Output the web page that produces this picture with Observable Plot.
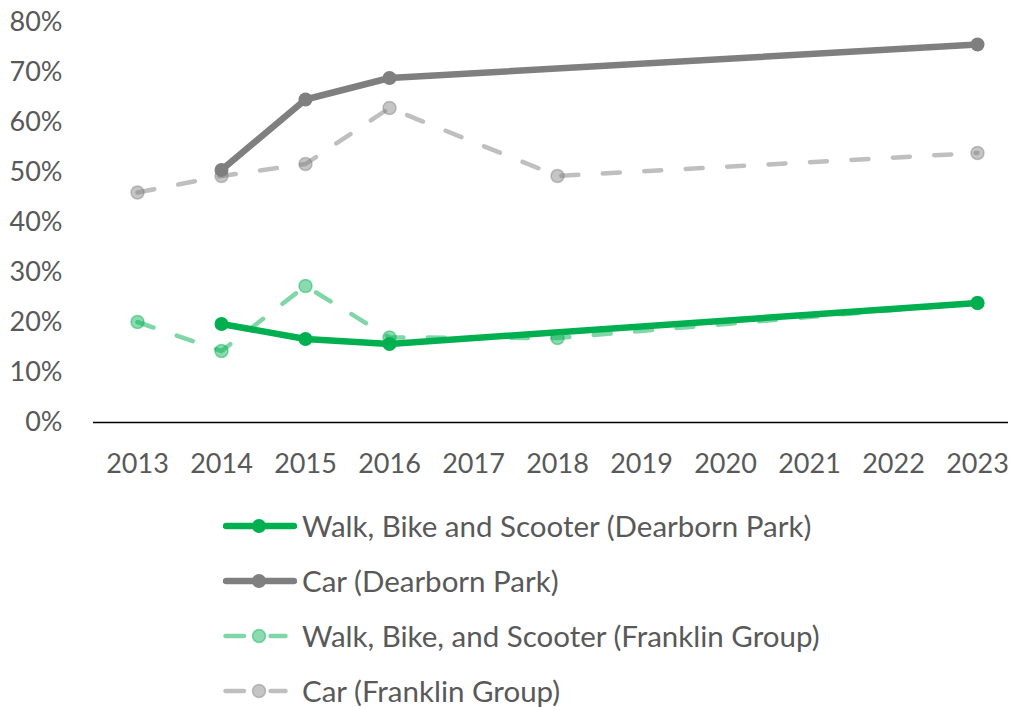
<!DOCTYPE html>
<html>
<head>
<meta charset="utf-8">
<script src="https://cdn.jsdelivr.net/npm/d3@7"></script>
<script src="https://cdn.jsdelivr.net/npm/@observablehq/plot@0.6"></script>
<style>
  html, body { margin: 0; padding: 0; background: #fff; }
  #chart { width: 1010px; }
  .legend { padding-top: 6px; font-family: Lato, sans-serif; font-size: 29.5px; color: #595959; }
  .row { display: flex; align-items: center; height: 55px; padding-left: 223px; }
  .row svg { flex: none; }
  .row span { margin-left: 5px; white-space: nowrap; }
</style>
</head>
<body>
<div id="chart"></div>
<script>
// Tick labels / categories on the x axis
const years = ["2013","2014","2015","2016","2017","2018","2019","2020","2021","2022","2023"];
// Y tick values (percent)
const yTicks = [0,10,20,30,40,50,60,70,80];

// Dearborn Park series
const dpYears = ["2014","2015","2016","2023"];
const dpWalk = [19.7, 16.7, 15.7, 23.9];
const dpCar = [50.5, 64.6, 68.9, 75.6];

// Franklin Group series
const fgYears = ["2013","2014","2015","2016","2018","2023"];
const fgWalk = [20.1, 14.3, 27.3, 17.0, 16.9, 23.9];
const fgCar = [46.0, 49.3, 51.7, 62.9, 49.3, 53.9];

const seriesNames = [
  "Walk, Bike and Scooter (Dearborn Park)",
  "Car (Dearborn Park)",
  "Walk, Bike, and Scooter (Franklin Group)",
  "Car (Franklin Group)"
];

const GREEN = "#00B050";
const GRAY = "#7F7F7F";

const toRows = (xs, ys) => xs.map((x, i) => ({x, y: ys[i]}));
const dWalk = toRows(dpYears, dpWalk);
const dCar = toRows(dpYears, dpCar);
const fWalk = toRows(fgYears, fgWalk);
const fCar = toRows(fgYears, fgCar);

const solid = (data, color) => [
  Plot.line(data, {x: "x", y: "y", stroke: color, strokeWidth: 6.5, strokeLinejoin: "round", strokeLinecap: "round"}),
  Plot.dot(data, {x: "x", y: "y", r: 7, fill: color})
];
const dashed = (data, color) => [
  Plot.line(data, {x: "x", y: "y", stroke: color, strokeOpacity: 0.5, strokeWidth: 4.5, strokeDasharray: "17,24.5", strokeLinecap: "round", strokeLinejoin: "round"}),
  Plot.dot(data, {x: "x", y: "y", r: 6.5, fill: color, fillOpacity: 0.45, stroke: color, strokeOpacity: 0.45, strokeWidth: 1.5})
];

const chart = Plot.plot({
  width: 1010,
  height: 492,
  marginTop: 22,
  marginBottom: 70,
  marginLeft: 135,
  marginRight: 31,
  style: {fontFamily: "Lato, sans-serif", fontSize: "27px", color: "#595959", background: "#fff"},
  x: {type: "point", domain: years, padding: 0},
  y: {domain: [0, 80]},
  marks: [
    Plot.axisY({ticks: yTicks, tickSize: 0, tickPadding: 73, tickFormat: d => d + "%", label: null, fill: "#595959", fontSize: 27}),
    Plot.axisX({tickSize: 0, tickPadding: 31, label: null, fill: "#595959", fontSize: 27}),
    Plot.ruleY([0], {stroke: "#000", strokeWidth: 1.5, insetLeft: -42, insetRight: -29}),
    ...solid(dWalk, GREEN),
    ...solid(dCar, GRAY),
    ...dashed(fWalk, GREEN),
    ...dashed(fCar, GRAY)
  ]
});
document.getElementById("chart").appendChild(chart);

// Legend
const legend = document.createElement("div");
legend.className = "legend";
const styles = [
  {color: GREEN, dashed: false},
  {color: GRAY, dashed: false},
  {color: GREEN, dashed: true},
  {color: GRAY, dashed: true}
];
seriesNames.forEach((name, i) => {
  const s = styles[i];
  const row = document.createElement("div");
  row.className = "row";
  let sw;
  if (!s.dashed) {
    sw = `<svg width="74" height="20"><line x1="3" x2="71" y1="10" y2="10" stroke="${s.color}" stroke-width="6.5" stroke-linecap="round"/><circle cx="36" cy="10" r="7" fill="${s.color}"/></svg>`;
  } else {
    sw = `<svg width="74" height="20"><g stroke="${s.color}" stroke-opacity="0.5" stroke-width="4.5" stroke-linecap="round"><line x1="2.5" x2="21" y1="10" y2="10"/><line x1="47.5" x2="62.5" y1="10" y2="10"/></g><circle cx="36" cy="10" r="6.5" fill="${s.color}" fill-opacity="0.45" stroke="${s.color}" stroke-opacity="0.45" stroke-width="1.5"/></svg>`;
  }
  row.innerHTML = sw + `<span>${name}</span>`;
  legend.appendChild(row);
});
document.body.appendChild(legend);
</script>
</body>
</html>
